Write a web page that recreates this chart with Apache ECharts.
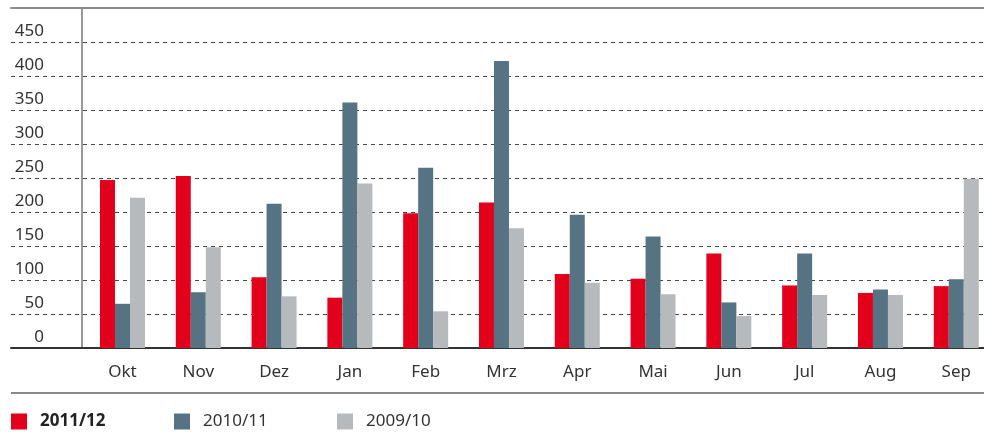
<!DOCTYPE html>
<html>
<head>
<meta charset="utf-8">
<script src="https://cdn.jsdelivr.net/npm/echarts@6/dist/echarts.min.js"></script>
<style>
  html, body { margin: 0; padding: 0; background: #fff; }
  #chart { width: 984px; height: 436px; }
</style>
</head>
<body>
<div id="chart"></div>
<script>
const months = ['Okt', 'Nov', 'Dez', 'Jan', 'Feb', 'Mrz', 'Apr', 'Mai', 'Jun', 'Jul', 'Aug', 'Sep']
const seasons = ['2011/12', '2010/11', '2009/10']
const values2011 = [247, 253, 104, 74, 198, 214, 109, 102, 139, 92, 81, 91]
const values2010 = [65, 82, 212, 361, 265, 422, 196, 164, 67, 139, 86, 101]
const values2009 = [221, 148, 76, 242, 54, 176, 96, 79, 47, 78, 78, 249]
const yMax = 500
const yStep = 50

const colors = ['#E2001A', '#557383', '#B6BABD']
const font = 'Noto Sans'
const legendLeft = [11, 174, 337]

const hiddenAxis = {
    axisLine: { show: false }, axisTick: { show: false },
    axisLabel: { show: false }, splitLine: { show: false }
}

const chart = echarts.init(document.getElementById('chart'))
chart.setOption({
    animation: false,
    textStyle: { fontFamily: font },
    grid: [
        // wide grid: dashed grid lines and labels, from the left edge
        { left: 11, right: 0, top: 8, bottom: 88 },
        // bars, with the vertical axis line
        { left: 82, right: 0, top: 8, bottom: 88 }
    ],
    xAxis: [
        {
            gridIndex: 0, type: 'value', min: 0, max: 1, position: 'bottom',
            ...hiddenAxis,
            axisLine: { show: true, lineStyle: { color: '#333', width: 2 } }
        },
        {
            gridIndex: 0, type: 'value', min: 0, max: 1, position: 'top',
            ...hiddenAxis,
            axisLine: { show: true, lineStyle: { color: '#8a8a8a', width: 2 } }
        },
        {
            // month slots on a numeric axis; the last slot runs past the right edge
            gridIndex: 1, type: 'value', min: -0.534, max: 11.366,
            ...hiddenAxis,
            axisLabel: {
                show: true, customValues: months.map((m, i) => i),
                formatter: v => months[Math.round(v)],
                color: '#333', fontSize: 17, margin: 16
            }
        }
    ],
    yAxis: [
        {
            gridIndex: 0, type: 'value', min: 0, max: yMax, interval: yStep,
            axisLine: { show: false }, axisTick: { show: false },
            axisLabel: {
                inside: true, align: 'right', verticalAlign: 'bottom',
                margin: 33, padding: [0, 0, 2, 0],
                color: '#333', fontSize: 17, showMaxLabel: false
            },
            splitLine: { lineStyle: { color: '#444', type: [4, 4], width: 1 } }
        },
        {
            gridIndex: 1, type: 'value', min: 0, max: yMax, interval: yStep,
            ...hiddenAxis,
            axisLine: { show: true, onZero: false, lineStyle: { color: '#777', width: 1.5 } }
        }
    ],
    legend: seasons.map((name, i) => ({
        left: legendLeft[i], top: 413, padding: 0,
        icon: 'rect', itemWidth: 16, itemHeight: 16,
        textStyle: {
            color: i === 0 ? '#222' : '#333',
            fontWeight: i === 0 ? 'bold' : 'normal',
            fontSize: 17, padding: [0, 0, 0, 8]
        },
        data: [name]
    })),
    graphic: [
        { type: 'line', shape: { x1: 11, y1: 393, x2: 984, y2: 393 }, style: { stroke: '#8a8a8a', lineWidth: 2 } }
    ],
    series: [values2011, values2010, values2009].map((vals, i) => ({
        name: seasons[i],
        type: 'bar',
        xAxisIndex: 2,
        yAxisIndex: 1,
        data: vals.map((v, j) => [j, v]),
        barWidth: 15,
        barGap: '0%',
        itemStyle: { color: colors[i] }
    }))
})
</script>
</body>
</html>
